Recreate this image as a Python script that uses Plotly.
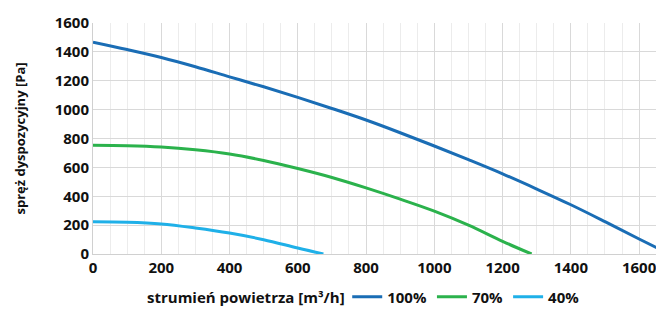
import plotly.graph_objects as go

# airflow [m3/h] vs available pressure [Pa]
flow100 = [0, 100, 200, 300, 400, 500, 600, 700, 800, 900, 1000, 1100, 1200, 1300, 1400, 1500, 1600, 1670]
p100 = [1467, 1416, 1361, 1297, 1227, 1158, 1085, 1008, 928, 840, 748, 653, 555, 450, 341, 224, 104, 22]

flow70 = [0, 100, 200, 300, 400, 500, 600, 700, 800, 900, 1000, 1100, 1200, 1285]
p70 = [753, 750, 741, 722, 693, 648, 592, 530, 458, 380, 297, 200, 88, 0]

flow40 = [0, 100, 200, 300, 400, 500, 600, 675]
p40 = [223, 220, 208, 180, 145, 99, 41, 0]

x_ticks = [0, 200, 400, 600, 800, 1000, 1200, 1400, 1600]
y_ticks = [0, 200, 400, 600, 800, 1000, 1200, 1400, 1600]

FONT = "Open Sans, Noto Sans, sans-serif"

fig = go.Figure()
for xs, ys, name, color in [
    (flow100, p100, "100%", "#1a6db5"),
    (flow70, p70, "70%", "#2bb24c"),
    (flow40, p40, "40%", "#1fb0e8"),
]:
    fig.add_trace(
        go.Scatter(
            x=xs, y=ys, name=name, mode="lines",
            line=dict(color=color, width=3, shape="spline", smoothing=1.0),
        )
    )

# page body has an 8px margin, so the figure is sized 8px smaller
fig.update_layout(
    width=656,
    height=321,
    margin=dict(l=85, r=1, t=15, b=75),
    plot_bgcolor="white",
    paper_bgcolor="white",
    font=dict(family=FONT, color="#111111", size=15),
    showlegend=True,
    legend=dict(
        orientation="h", x=0.446, xanchor="left",
        yref="container", y=0.0997, yanchor="middle",
        font=dict(size=15, family=FONT, weight="bold"),
        tracegroupgap=0,
    ),
    annotations=[
        dict(
            text="strumień powietrza [m³/h]", xref="paper", yref="paper",
            x=0.268, y=-0.186, xanchor="center", yanchor="middle", showarrow=False,
            font=dict(size=15, family=FONT, weight="bold"),
        )
    ],
)
fig.update_xaxes(
    range=[0, 1670], tickvals=x_ticks, showgrid=True, gridcolor="#d9d9d9",
    minor=dict(dtick=50, tick0=0, showgrid=True, gridcolor="#ececec"),
    showline=True, linecolor="#d0d0d0", zeroline=False, ticks="",
    automargin=False,
    tickfont=dict(size=15, family=FONT, weight="bold"),
)
fig.update_yaxes(
    range=[0, 1600], tickvals=y_ticks, showgrid=True, gridcolor="#d9d9d9",
    showline=True, linecolor="#d0d0d0", zeroline=False, ticks="",
    automargin=False,
    tickfont=dict(size=15, family=FONT, weight="bold"),
    title=dict(text="spręż dyspozycyjny [Pa]", standoff=26,
               font=dict(size=13, family=FONT, weight="bold")),
)

fig.write_html("out.html")
